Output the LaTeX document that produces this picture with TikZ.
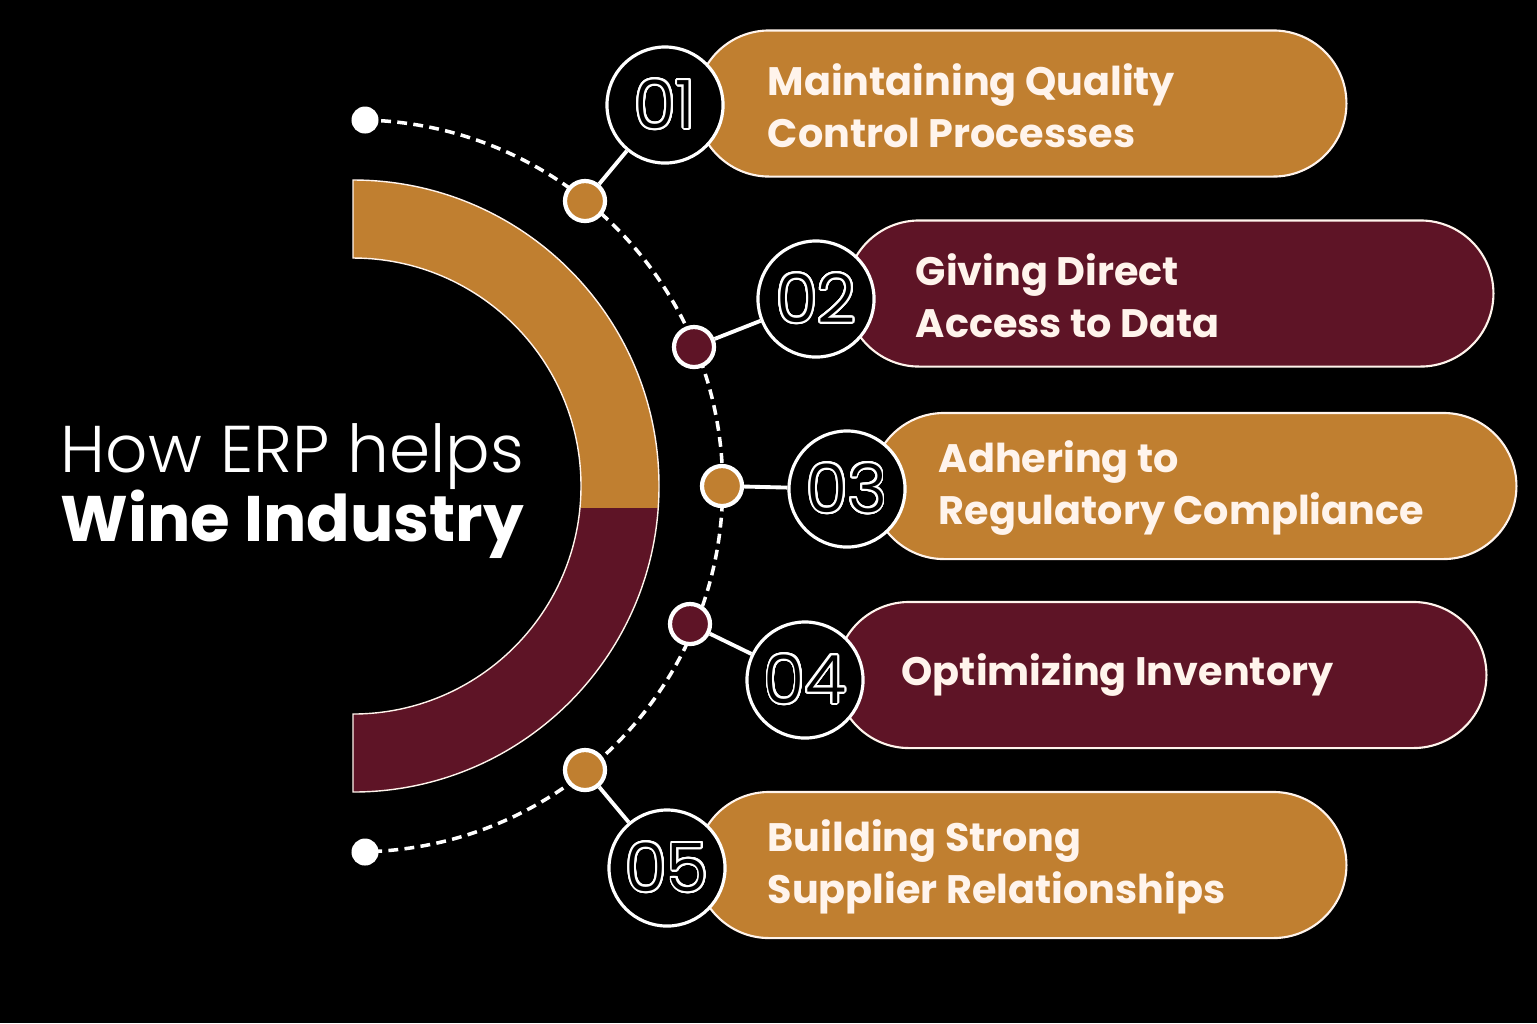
\documentclass[tikz,border=0pt]{standalone}
\usepackage{fontspec}
\setmainfont{Poppins}
\newfontfamily\lightfont{Poppins Light}
\usepackage{contour}
\contourlength{0.55pt}
\contournumber{32}
\usetikzlibrary{positioning}
\definecolor{wgold}{HTML}{C07F30}
\definecolor{wmaroon}{HTML}{5E1426}
\definecolor{cream}{HTML}{FFF4EC}
\newcommand{\ringpath}{(353,180) arc[start angle=-90,end angle=90,radius=306] -- (353,714) arc[start angle=90,end angle=-90,radius=228] -- cycle}

\begin{document}
\begin{tikzpicture}[x=0.01cm,y=-0.01cm,
  numring/.style={circle,draw=white,line width=0.9pt,fill=black,text=black,minimum size=1.16cm,inner sep=0pt,font=\lightfont\fontsize{19}{19}\selectfont},
  knob/.style={circle,draw=white,line width=1.2pt,minimum size=0.40cm,inner sep=0pt},
  tip/.style={circle,fill=white,minimum size=0.27cm,inner sep=0pt},
  pill/.style={rectangle,rounded corners=0.73cm,draw=cream,line width=0.6pt,minimum height=1.46cm,minimum width=6.5cm,anchor=west},
  pilltext/.style={anchor=west,inner sep=0pt,align=left,text=cream,font=\bfseries\fontsize{11.3}{14.8}\selectfont},
  link/.style={draw=white,line width=1.1pt},
  trail/.style={draw=white,line width=1pt,dash pattern=on 2.8pt off 1.8pt}]
\useasboundingbox (0,0) rectangle (1537,1023);
\fill[black] (0,0) rectangle (1537,1023);

% half ring
\fill[wmaroon] \ringpath;
\begin{scope}
  \clip (300,150) rectangle (700,507);
  \fill[wgold] \ringpath;
\end{scope}
\draw[cream,line width=0.4pt] \ringpath;

% title
\node[anchor=base west,inner sep=0pt,text=white,font=\lightfont\fontsize{18.8}{20}\selectfont] (howline) at (60,472) {How ERP helps};
\node[anchor=base west,inner sep=0pt,text=white,font=\bfseries\fontsize{18.3}{20}\selectfont] (wineline) at (60,541) {Wine Industry};

% dotted track
\node[tip] (top) at (365,120) {};
\node[tip] (bottom) at (365,852) {};
\draw[trail] (top.center) arc[start angle=-88.7,end angle=88.7,radius=366];

% pills
\node[pill,fill=wgold] (p1) at (695,103.5) {};
\node[pill,fill=wmaroon,minimum width=6.47cm] (p2) at (845,293.5) {};
\node[pill,fill=wgold,minimum width=6.45cm] (p3) at (870,486) {};
\node[pill,fill=wmaroon] (p4) at (835,675) {};
\node[pill,fill=wgold] (p5) at (695,865) {};

\node[pilltext] (t1) at ([xshift=0.72cm,yshift=-0.02cm]p1.west) {Maintaining Quality\\Control Processes};
\node[pilltext] (t2) at ([xshift=0.70cm,yshift=-0.02cm]p2.west) {Giving Direct\\Access to Data};
\node[pilltext] (t3) at ([xshift=0.68cm,yshift=-0.02cm]p3.west) {Adhering to\\Regulatory Compliance};
\node[pilltext] (t4) at ([xshift=0.66cm]p4.west) {Optimizing Inventory};
\node[pilltext] (t5) at ([xshift=0.72cm,yshift=-0.02cm]p5.west) {Building Strong\\Supplier Relationships};

% numbers
\node[numring] (n1) at (665,105) {\contour{white}{01}};
\node[numring] (n2) at (816,299) {\contour{white}{02}};
\node[numring] (n3) at (847,489) {\contour{white}{03}};
\node[numring] (n4) at (805,680) {\contour{white}{04}};
\node[numring] (n5) at (667,868) {\contour{white}{05}};

% knobs on the track
\node[knob,fill=wgold] (k1) at (585,201) {};
\node[knob,fill=wmaroon] (k2) at (694,347) {};
\node[knob,fill=wgold] (k3) at (722,486) {};
\node[knob,fill=wmaroon] (k4) at (690,624) {};
\node[knob,fill=wgold] (k5) at (585,770) {};

\draw[link] (k1) -- (n1);
\draw[link] (k2) -- (n2);
\draw[link] (k3) -- (n3);
\draw[link] (k4) -- (n4);
\draw[link] (k5) -- (n5);
\end{tikzpicture}
\end{document}
